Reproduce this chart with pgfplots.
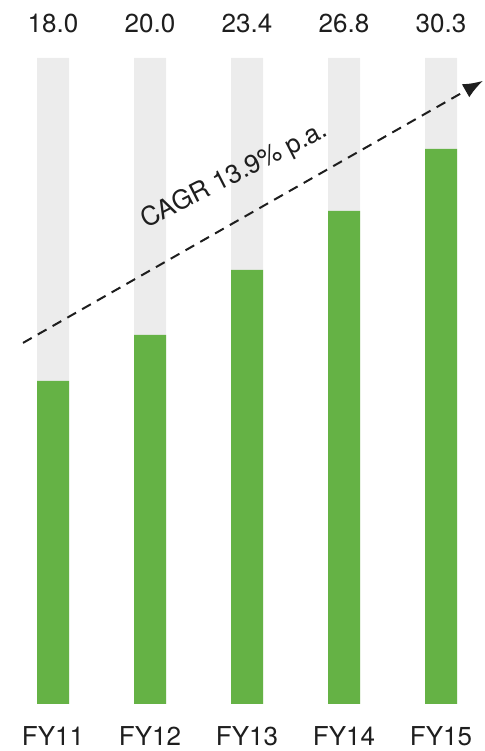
\documentclass[border=0pt]{standalone}
\usepackage{fontspec}
\setmainfont{TeX Gyre Heros}
\usepackage{pgfplots}
\usepackage{pgfplotstable}
\pgfplotsset{compat=1.18}
\usetikzlibrary{arrows.meta}
\definecolor{barGreen}{RGB}{101,178,69}
\definecolor{barGray}{RGB}{236,236,236}
\definecolor{txt}{RGB}{30,30,30}
\pgfplotstableread{
x total label
0 35.1 18.0
1 35.1 20.0
2 35.1 23.4
3 35.1 26.8
4 35.1 30.3
}\graytab
\pgfplotstableread{
x val
0 17.55
1 20.05
2 23.59
3 26.79
4 30.16
}\greentab
\begin{document}
\begin{tikzpicture}[x=1bp,y=1bp]
\useasboundingbox (0,0) rectangle (485,751);
\begin{axis}[
  at={(4.5bp,47bp)}, anchor=south west,
  scale only axis, width=485bp, height=646bp,
  xmin=-0.5, xmax=4.5, ymin=0, ymax=35.1,
  axis x line*=bottom, axis y line=none,
  x axis line style={draw=none},
  xtick={0,1,2,3,4},
  xticklabels={FY11,FY12,FY13,FY14,FY15},
  major tick length=0pt,
  xtick style={draw=none},
  xticklabel style={font=\fontsize{26bp}{30bp}\selectfont, text=txt, anchor=base, yshift=-41bp, inner sep=0pt},
  clip=false,
  ybar, bar width=32bp,
]
\addplot[fill=barGray, draw=none, bar shift=0pt,
  nodes near coords, point meta=explicit symbolic,
  nodes near coords style={font=\fontsize{26bp}{30bp}\selectfont, text=txt, anchor=base, yshift=25bp, inner sep=0pt}]
  table[x=x, y=total, meta=label] {\graytab};
\addplot[fill=barGreen, draw=none, bar shift=0pt] table[x=x, y=val] {\greentab};
\draw[txt, line width=2bp, dash pattern=on 10bp off 7bp, -{Latex[length=20bp,width=15bp]}]
  (axis cs:-0.309,19.62) -- (axis cs:4.433,33.86);
\node[font=\fontsize{26bp}{30bp}\selectfont, text=txt, rotate=27, anchor=base, inner sep=0pt]
  at (axis cs:1.907,28.37) {CAGR 13.9\% p.a.};
\end{axis}
\end{tikzpicture}
\end{document}
